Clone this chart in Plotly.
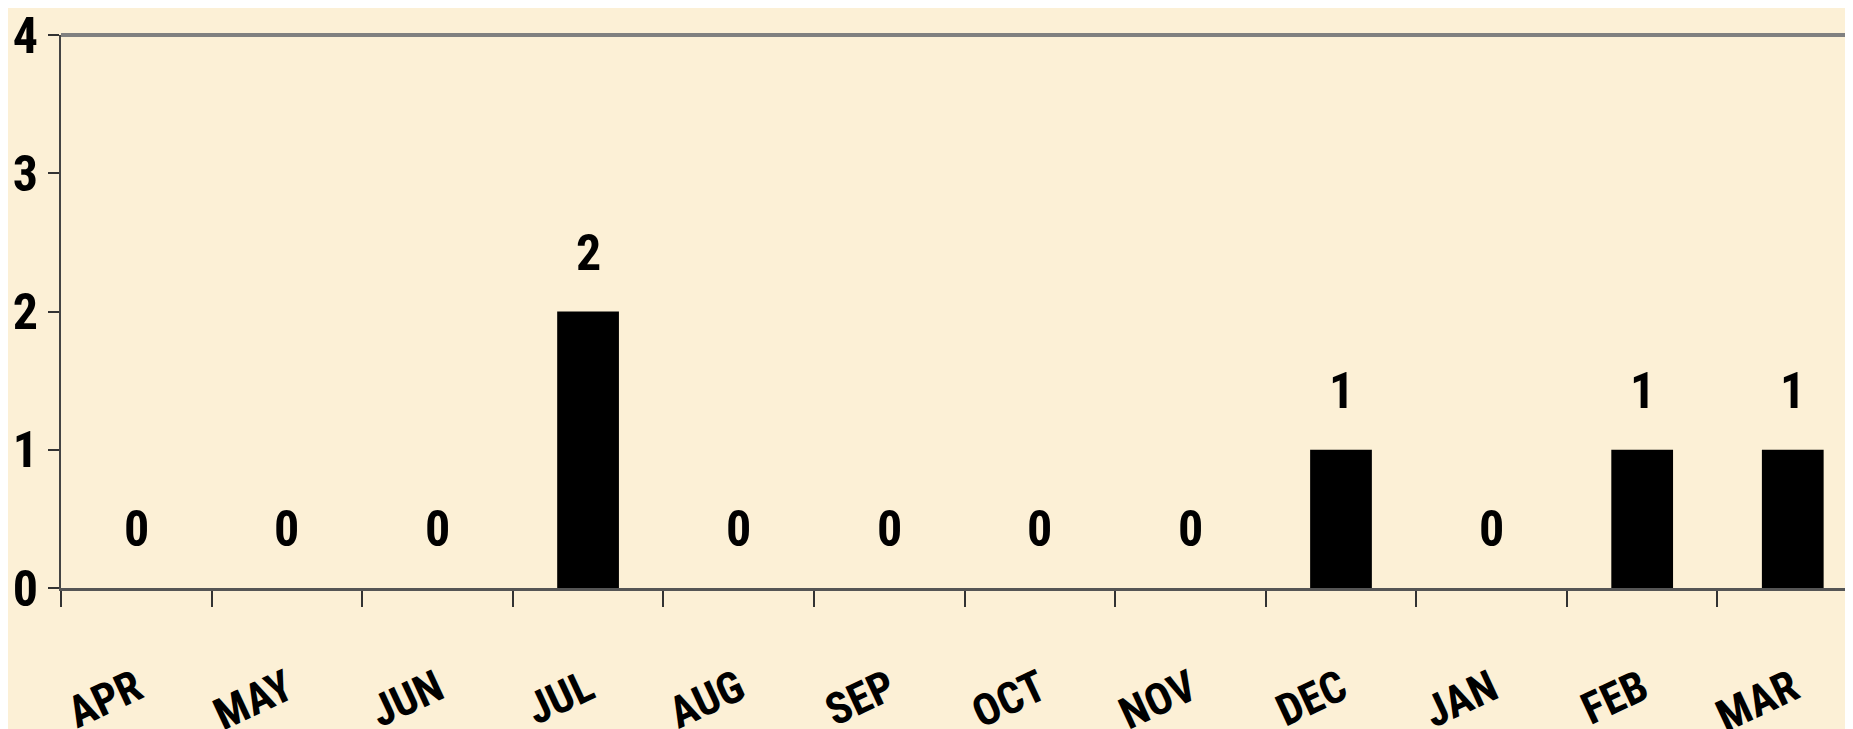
import plotly.graph_objects as go

# monthly counts
months = ['APR', 'MAY', 'JUN', 'JUL', 'AUG', 'SEP', 'OCT', 'NOV', 'DEC', 'JAN', 'FEB', 'MAR']
counts = [0, 0, 0, 2, 0, 0, 0, 0, 1, 0, 1, 1]
y_ticks = [0, 1, 2, 3, 4]

FONT = 'Roboto Condensed, Open Sans Condensed, Liberation Sans, sans-serif'
BG = '#FCF0D6'

fig = go.Figure()

fig.add_trace(go.Bar(x=months, y=counts, width=0.41,
                     marker=dict(color='black', line=dict(width=0))))

# value labels above each bar
for m, v in zip(months, counts):
    fig.add_annotation(x=m, y=v, text=str(v), showarrow=False,
                       yanchor='bottom', yshift=28,
                       font=dict(family=FONT, size=50, color='black', weight='bold'))

# grey border along the top of the plot
fig.add_shape(type='line', xref='paper', x0=0, x1=1, yref='paper', y0=1, y1=1,
              line=dict(color='#808080', width=4))

fig.update_layout(
    width=1845, height=721,
    margin=dict(l=53, r=0, t=27, b=141),
    paper_bgcolor=BG, plot_bgcolor=BG,
    showlegend=False,
    xaxis=dict(type='category', range=[-0.5, 11.4], tickson='boundaries', automargin=False,
               ticks='outside', ticklen=16, tickcolor='#333', tickwidth=2,
               tickangle=-25, ticklabelstandoff=55, ticklabeloverflow='allow',
               showline=True, linecolor='#555', linewidth=3, showgrid=False,
               tickfont=dict(family=FONT, size=44, color='black', weight='bold')),
    yaxis=dict(range=[0, 4], tickvals=y_ticks, ticks='outside', ticklen=11, automargin=False,
               tickcolor='#333', tickwidth=2, ticklabelstandoff=0, ticklabeloverflow='allow',
               showline=True, linecolor='#444', linewidth=2, showgrid=False,
               zeroline=False,
               tickfont=dict(family=FONT, size=50, color='black', weight='bold')),
)

fig.write_html("out.html")
